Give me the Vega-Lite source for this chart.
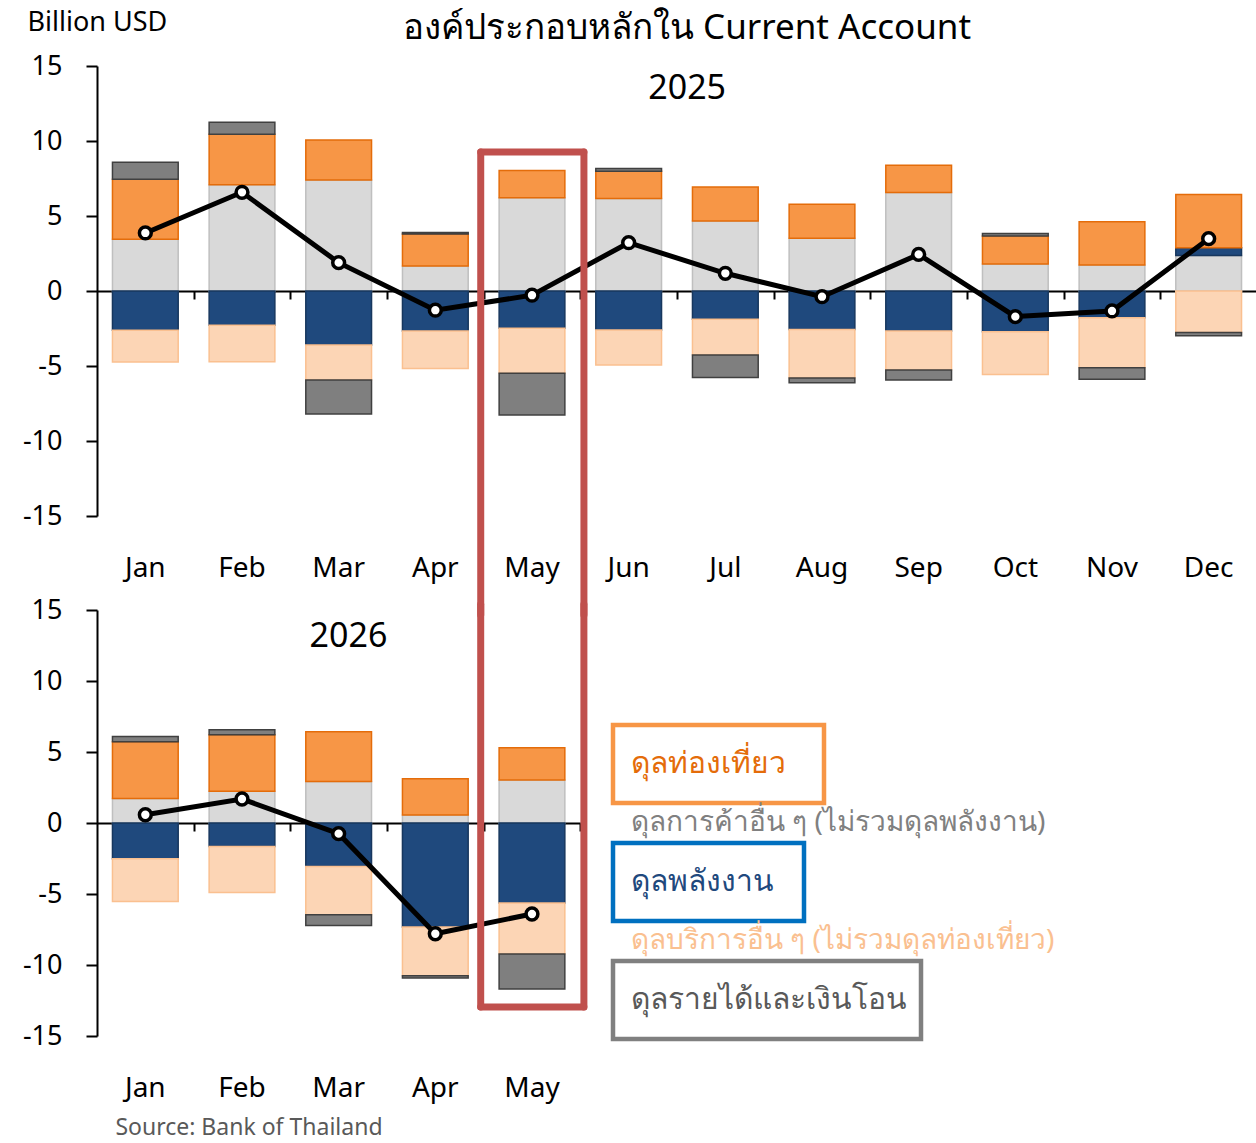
{
  "$schema": "https://vega.github.io/schema/vega-lite/v6.json",
  "background": "white",
  "padding": {"left": 22, "top": 8, "right": 0, "bottom": 0},
  "config": {
    "font": "Noto Sans",
    "view": {"stroke": null},
    "axis": {"labelFont": "Noto Sans", "titleFont": "Noto Sans"},
    "title": {"font": "Noto Sans"}
  },
  "datasets": {
    "bars": [
      {"y":"2025","m":"Jan","c":"Trade","v":3.45},{"y":"2025","m":"Jan","c":"Energy","v":-2.62},{"y":"2025","m":"Jan","c":"Tourism","v":4.0},{"y":"2025","m":"Jan","c":"Services","v":-2.11},{"y":"2025","m":"Jan","c":"Income","v":1.13},
      {"y":"2025","m":"Feb","c":"Trade","v":7.09},{"y":"2025","m":"Feb","c":"Energy","v":-2.28},{"y":"2025","m":"Feb","c":"Tourism","v":3.36},{"y":"2025","m":"Feb","c":"Services","v":-2.43},{"y":"2025","m":"Feb","c":"Income","v":0.8},
      {"y":"2025","m":"Mar","c":"Trade","v":7.4},{"y":"2025","m":"Mar","c":"Energy","v":-3.6},{"y":"2025","m":"Mar","c":"Tourism","v":2.66},{"y":"2025","m":"Mar","c":"Services","v":-2.33},{"y":"2025","m":"Mar","c":"Income","v":-2.27},
      {"y":"2025","m":"Apr","c":"Trade","v":1.66},{"y":"2025","m":"Apr","c":"Energy","v":-2.67},{"y":"2025","m":"Apr","c":"Tourism","v":2.14},{"y":"2025","m":"Apr","c":"Services","v":-2.49},{"y":"2025","m":"Apr","c":"Income","v":0.1},
      {"y":"2025","m":"May","c":"Trade","v":6.22},{"y":"2025","m":"May","c":"Energy","v":-2.49},{"y":"2025","m":"May","c":"Tourism","v":1.82},{"y":"2025","m":"May","c":"Services","v":-3.0},{"y":"2025","m":"May","c":"Income","v":-2.78},
      {"y":"2025","m":"Jun","c":"Trade","v":6.16},{"y":"2025","m":"Jun","c":"Energy","v":-2.6},{"y":"2025","m":"Jun","c":"Tourism","v":1.82},{"y":"2025","m":"Jun","c":"Services","v":-2.33},{"y":"2025","m":"Jun","c":"Income","v":0.18},
      {"y":"2025","m":"Jul","c":"Trade","v":4.67},{"y":"2025","m":"Jul","c":"Energy","v":-1.89},{"y":"2025","m":"Jul","c":"Tourism","v":2.26},{"y":"2025","m":"Jul","c":"Services","v":-2.38},{"y":"2025","m":"Jul","c":"Income","v":-1.49},
      {"y":"2025","m":"Aug","c":"Trade","v":3.51},{"y":"2025","m":"Aug","c":"Energy","v":-2.56},{"y":"2025","m":"Aug","c":"Tourism","v":2.27},{"y":"2025","m":"Aug","c":"Services","v":-3.24},{"y":"2025","m":"Aug","c":"Income","v":-0.31},
      {"y":"2025","m":"Sep","c":"Trade","v":6.56},{"y":"2025","m":"Sep","c":"Energy","v":-2.67},{"y":"2025","m":"Sep","c":"Tourism","v":1.82},{"y":"2025","m":"Sep","c":"Services","v":-2.6},{"y":"2025","m":"Sep","c":"Income","v":-0.66},
      {"y":"2025","m":"Oct","c":"Trade","v":1.8},{"y":"2025","m":"Oct","c":"Energy","v":-2.71},{"y":"2025","m":"Oct","c":"Tourism","v":1.87},{"y":"2025","m":"Oct","c":"Services","v":-2.85},{"y":"2025","m":"Oct","c":"Income","v":0.17},
      {"y":"2025","m":"Nov","c":"Trade","v":1.73},{"y":"2025","m":"Nov","c":"Energy","v":-1.78},{"y":"2025","m":"Nov","c":"Tourism","v":2.89},{"y":"2025","m":"Nov","c":"Services","v":-3.33},{"y":"2025","m":"Nov","c":"Income","v":-0.78},
      {"y":"2025","m":"Dec","c":"Trade","v":2.36},{"y":"2025","m":"Dec","c":"Energy","v":0.53},{"y":"2025","m":"Dec","c":"Tourism","v":3.55},{"y":"2025","m":"Dec","c":"Services","v":-2.76},{"y":"2025","m":"Dec","c":"Income","v":-0.22},
      {"y":"2026","m":"Jan","c":"Trade","v":1.73},{"y":"2026","m":"Jan","c":"Energy","v":-2.51},{"y":"2026","m":"Jan","c":"Tourism","v":4.0},{"y":"2026","m":"Jan","c":"Services","v":-3.01},{"y":"2026","m":"Jan","c":"Income","v":0.37},
      {"y":"2026","m":"Feb","c":"Trade","v":2.23},{"y":"2026","m":"Feb","c":"Energy","v":-1.65},{"y":"2026","m":"Feb","c":"Tourism","v":3.99},{"y":"2026","m":"Feb","c":"Services","v":-3.24},{"y":"2026","m":"Feb","c":"Income","v":0.35},
      {"y":"2026","m":"Mar","c":"Trade","v":2.93},{"y":"2026","m":"Mar","c":"Energy","v":-3.06},{"y":"2026","m":"Mar","c":"Tourism","v":3.5},{"y":"2026","m":"Mar","c":"Services","v":-3.4},{"y":"2026","m":"Mar","c":"Income","v":-0.75},
      {"y":"2026","m":"Apr","c":"Trade","v":0.56},{"y":"2026","m":"Apr","c":"Energy","v":-7.32},{"y":"2026","m":"Apr","c":"Tourism","v":2.56},{"y":"2026","m":"Apr","c":"Services","v":-3.43},{"y":"2026","m":"Apr","c":"Income","v":-0.17},
      {"y":"2026","m":"May","c":"Trade","v":3.03},{"y":"2026","m":"May","c":"Energy","v":-5.63},{"y":"2026","m":"May","c":"Tourism","v":2.27},{"y":"2026","m":"May","c":"Services","v":-3.6},{"y":"2026","m":"May","c":"Income","v":-2.46}
    ],
    "ca": [
      {"y":"2025","m":"Jan","ca":3.87},{"y":"2025","m":"Feb","ca":6.58},{"y":"2025","m":"Mar","ca":1.89},{"y":"2025","m":"Apr","ca":-1.28},
      {"y":"2025","m":"May","ca":-0.28},{"y":"2025","m":"Jun","ca":3.22},{"y":"2025","m":"Jul","ca":1.18},{"y":"2025","m":"Aug","ca":-0.38},
      {"y":"2025","m":"Sep","ca":2.44},{"y":"2025","m":"Oct","ca":-1.71},{"y":"2025","m":"Nov","ca":-1.33},{"y":"2025","m":"Dec","ca":3.49},
      {"y":"2026","m":"Jan","ca":0.58},{"y":"2026","m":"Feb","ca":1.69},{"y":"2026","m":"Mar","ca":-0.75},{"y":"2026","m":"Apr","ca":-7.8},{"y":"2026","m":"May","ca":-6.41}
    ],
    "legend": [
      {"item": "ดุลท่องเที่ยว", "boxed": true},
      {"item": "ดุลการค้าอื่น ๆ (ไม่รวมดุลพลังงาน)", "boxed": false},
      {"item": "ดุลพลังงาน", "boxed": true},
      {"item": "ดุลบริการอื่น ๆ (ไม่รวมดุลท่องเที่ยว)", "boxed": false},
      {"item": "ดุลรายได้และเงินโอน", "boxed": true}
    ]
  },
  "title": {"text": "Source: Bank of Thailand", "orient": "bottom", "anchor": "start", "frame": "bounds", "fontSize": 23, "fontWeight": "normal", "color": "#595959", "dx": 93, "offset": 15},
  "spacing": 94,
  "bounds": "flush",
  "vconcat": [
    {
      "width": 1160,
      "height": 450,
      "title": {"text": "องค์ประกอบหลักใน Current Account", "fontSize": 35, "fontWeight": "normal", "color": "black", "anchor": "middle", "frame": "group", "dx": 10, "offset": -38},
      "layer": [
        {
          "data": {"name": "bars"},
          "transform": [
            {"filter": "datum.y == '2025'"},
            {"calculate": "indexof(['Trade','Energy','Tourism','Services','Income'], datum.c)", "as": "ord"}
          ],
          "mark": {"type": "bar", "strokeWidth": 1.5},
          "encoding": {
            "x": {"field": "m", "type": "nominal",
                  "scale": {"domain": ["Jan","Feb","Mar","Apr","May","Jun","Jul","Aug","Sep","Oct","Nov","Dec"], "paddingInner": 0.32, "paddingOuter": 0.16},
                  "axis": {"orient": "bottom", "offset": -225, "labels": false, "title": null, "domainColor": "black", "domainWidth": 2, "tickColor": "black", "tickWidth": 2, "tickSize": 8, "bandPosition": 1, "tickOffset": 15.5}},
            "y": {"field": "v", "type": "quantitative", "stack": "zero",
                  "scale": {"domain": [-15, 15], "nice": false},
                  "axis": {"values": [-15,-10,-5,0,5,10,15], "labelExpr": "datum.value < 0 ? '-' + abs(datum.value) : '' + datum.value", "grid": false, "domainColor": "black", "domainWidth": 2, "tickColor": "black", "tickWidth": 2, "tickSize": 11, "labelFontSize": 27, "labelColor": "black", "labelPadding": 24,
                           "title": "Billion USD", "titleAngle": 0, "titleAlign": "left", "titleBaseline": "middle", "titleX": -70, "titleY": -44, "titleFontSize": 27, "titleFontWeight": "normal", "titleColor": "black"}},
            "fill": {"field": "c", "type": "nominal", "legend": null,
                     "scale": {"domain": ["Trade","Energy","Tourism","Services","Income"], "range": ["#D9D9D9","#1F497D","#F79646","#FCD5B5","#7F7F7F"]}},
            "stroke": {"field": "c", "type": "nominal", "legend": null,
                       "scale": {"domain": ["Trade","Energy","Tourism","Services","Income"], "range": ["#BFBFBF","#17375E","#E46C0A","#FAC090","#404040"]}},
            "order": {"field": "ord", "type": "quantitative", "sort": "ascending"}
          }
        },
        {
          "data": {"name": "ca"},
          "transform": [{"filter": "datum.y == '2025'"}],
          "mark": {"type": "line", "color": "black", "strokeWidth": 5},
          "encoding": {
            "x": {"field": "m", "type": "nominal",
                  "axis": {"orient": "bottom", "domain": false, "ticks": false, "tickSize": 0, "labelFontSize": 28, "labelColor": "black", "labelPadding": 38, "labelAngle": 0, "title": null}},
            "y": {"field": "ca", "type": "quantitative"}
          }
        },
        {
          "data": {"name": "ca"},
          "transform": [{"filter": "datum.y == '2025'"}],
          "mark": {"type": "point", "shape": "circle", "filled": true, "fill": "white", "stroke": "black", "strokeWidth": 3.5, "size": 140, "opacity": 1},
          "encoding": {
            "x": {"field": "m", "type": "nominal", "axis": null},
            "y": {"field": "ca", "type": "quantitative"}
          }
        },
        {
          "data": {"values": [{}]},
          "mark": {"type": "text", "fontSize": 34, "color": "black", "align": "center", "baseline": "middle"},
          "encoding": {
            "x": {"datum": "Jun", "type": "nominal", "bandPosition": 1.39, "axis": null},
            "y": {"datum": 13.5, "type": "quantitative"},
            "text": {"value": "2025"}
          }
        },
        {
          "data": {"values": [{}]},
          "mark": {"type": "rule", "color": "#C0504D", "strokeWidth": 7, "strokeCap": "round"},
          "encoding": {
            "x": {"datum": "May", "type": "nominal", "bandPosition": -0.28, "axis": null},
            "y": {"datum": 9.27, "type": "quantitative"},
            "y2": {"datum": -21.6}
          }
        },
        {
          "data": {"values": [{}]},
          "mark": {"type": "rule", "color": "#C0504D", "strokeWidth": 7, "strokeCap": "round"},
          "encoding": {
            "x": {"datum": "May", "type": "nominal", "bandPosition": 1.29, "axis": null},
            "y": {"datum": 9.27, "type": "quantitative"},
            "y2": {"datum": -21.6}
          }
        },
        {
          "data": {"values": [{}]},
          "mark": {"type": "rule", "color": "#C0504D", "strokeWidth": 7, "strokeCap": "round"},
          "encoding": {
            "x": {"datum": "May", "type": "nominal", "bandPosition": -0.28, "axis": null},
            "x2": {"datum": "May", "bandPosition": 1.29},
            "y": {"datum": 9.27, "type": "quantitative"}
          }
        }
      ],
      "resolve": {"axis": {"x": "independent"}}
    },
    {
      "spacing": 30,
      "bounds": "flush",
      "hconcat": [
        {
          "width": 483.3,
          "height": 426,
          "layer": [
            {
              "data": {"name": "bars"},
              "transform": [
                {"filter": "datum.y == '2026'"},
                {"calculate": "indexof(['Trade','Energy','Tourism','Services','Income'], datum.c)", "as": "ord"}
              ],
              "mark": {"type": "bar", "strokeWidth": 1.5},
              "encoding": {
                "x": {"field": "m", "type": "nominal",
                      "scale": {"domain": ["Jan","Feb","Mar","Apr","May"], "paddingInner": 0.32, "paddingOuter": 0.16},
                      "axis": {"orient": "bottom", "offset": -213, "labels": false, "title": null, "domainColor": "black", "domainWidth": 2, "tickColor": "black", "tickWidth": 2, "tickSize": 8, "bandPosition": 1, "tickOffset": 15.5}},
                "y": {"field": "v", "type": "quantitative", "stack": "zero",
                      "scale": {"domain": [-15, 15], "nice": false},
                      "axis": {"values": [-15,-10,-5,0,5,10,15], "labelExpr": "datum.value < 0 ? '-' + abs(datum.value) : '' + datum.value", "grid": false, "domainColor": "black", "domainWidth": 2, "tickColor": "black", "tickWidth": 2, "tickSize": 11, "labelFontSize": 27, "labelColor": "black", "labelPadding": 24, "title": null}},
                "fill": {"field": "c", "type": "nominal", "legend": null,
                         "scale": {"domain": ["Trade","Energy","Tourism","Services","Income"], "range": ["#D9D9D9","#1F497D","#F79646","#FCD5B5","#7F7F7F"]}},
                "stroke": {"field": "c", "type": "nominal", "legend": null,
                           "scale": {"domain": ["Trade","Energy","Tourism","Services","Income"], "range": ["#BFBFBF","#17375E","#E46C0A","#FAC090","#404040"]}},
                "order": {"field": "ord", "type": "quantitative", "sort": "ascending"}
              }
            },
            {
              "data": {"name": "ca"},
              "transform": [{"filter": "datum.y == '2026'"}],
              "mark": {"type": "line", "color": "black", "strokeWidth": 5},
              "encoding": {
                "x": {"field": "m", "type": "nominal",
                      "axis": {"orient": "bottom", "domain": false, "ticks": false, "tickSize": 0, "labelFontSize": 28, "labelColor": "black", "labelPadding": 38, "labelAngle": 0, "title": null}},
                "y": {"field": "ca", "type": "quantitative"}
              }
            },
            {
              "data": {"name": "ca"},
              "transform": [{"filter": "datum.y == '2026'"}],
              "mark": {"type": "point", "shape": "circle", "filled": true, "fill": "white", "stroke": "black", "strokeWidth": 3.5, "size": 140, "opacity": 1},
              "encoding": {
                "x": {"field": "m", "type": "nominal", "axis": null},
                "y": {"field": "ca", "type": "quantitative"}
              }
            },
            {
              "data": {"values": [{}]},
              "mark": {"type": "text", "fontSize": 34, "color": "black", "align": "center", "baseline": "middle"},
              "encoding": {
                "x": {"datum": "Mar", "type": "nominal", "bandPosition": 0.65, "axis": null},
                "y": {"datum": 13.1, "type": "quantitative"},
                "text": {"value": "2026"}
              }
            },
            {
              "data": {"values": [{}]},
              "mark": {"type": "rule", "color": "#C0504D", "strokeWidth": 7, "strokeCap": "round"},
              "encoding": {
                "x": {"datum": "May", "type": "nominal", "bandPosition": -0.28, "axis": null},
                "y": {"datum": 15.4, "type": "quantitative"},
                "y2": {"datum": -12.96}
              }
            },
            {
              "data": {"values": [{}]},
              "mark": {"type": "rule", "color": "#C0504D", "strokeWidth": 7, "strokeCap": "round"},
              "encoding": {
                "x": {"datum": "May", "type": "nominal", "bandPosition": 1.29, "axis": null},
                "y": {"datum": 15.4, "type": "quantitative"},
                "y2": {"datum": -12.96}
              }
            },
            {
              "data": {"values": [{}]},
              "mark": {"type": "rule", "color": "#C0504D", "strokeWidth": 7, "strokeCap": "round"},
              "encoding": {
                "x": {"datum": "May", "type": "nominal", "bandPosition": -0.28, "axis": null},
                "x2": {"datum": "May", "bandPosition": 1.29},
                "y": {"datum": -12.96, "type": "quantitative"}
              }
            }
          ],
          "resolve": {"axis": {"x": "independent"}}
        },
        {
          "width": 450,
          "height": 426,
          "data": {"name": "legend"},
          "layer": [
            {
              "transform": [{"filter": "datum.item == 'ดุลท่องเที่ยว'"}],
              "mark": {"type": "rect", "fillOpacity": 0, "stroke": "#F79646", "strokeWidth": 4.5, "height": {"band": 1.32}},
              "encoding": {
                "x": {"datum": 2, "type": "quantitative", "scale": {"domain": [0, 450], "nice": false, "zero": false}, "axis": null},
                "x2": {"datum": 213},
                "y": {"field": "item", "type": "nominal", "axis": null,
                      "scale": {"domain": [" ","ดุลท่องเที่ยว","ดุลการค้าอื่น ๆ (ไม่รวมดุลพลังงาน)","ดุลพลังงาน","ดุลบริการอื่น ๆ (ไม่รวมดุลท่องเที่ยว)","ดุลรายได้และเงินโอน"], "paddingInner": 0, "paddingOuter": 0.61, "align": 0.91}}
              }
            },
            {
              "transform": [{"filter": "datum.item == 'ดุลพลังงาน'"}],
              "mark": {"type": "rect", "fillOpacity": 0, "stroke": "#0070C0", "strokeWidth": 4.5, "height": {"band": 1.32}},
              "encoding": {
                "x": {"datum": 2, "type": "quantitative", "axis": null},
                "x2": {"datum": 193},
                "y": {"field": "item", "type": "nominal", "axis": null}
              }
            },
            {
              "transform": [{"filter": "datum.item == 'ดุลรายได้และเงินโอน'"}],
              "mark": {"type": "rect", "fillOpacity": 0, "stroke": "#808080", "strokeWidth": 4.5, "height": {"band": 1.32}},
              "encoding": {
                "x": {"datum": 2, "type": "quantitative", "axis": null},
                "x2": {"datum": 310},
                "y": {"field": "item", "type": "nominal", "axis": null}
              }
            },
            {
              "transform": [{"filter": "datum.boxed"}],
              "mark": {"type": "text", "align": "left", "baseline": "middle", "fontSize": 30, "fontWeight": 500},
              "encoding": {
                "x": {"datum": 20, "type": "quantitative", "axis": null},
                "y": {"field": "item", "type": "nominal", "axis": null},
                "text": {"field": "item"},
                "color": {"field": "item", "type": "nominal", "legend": null,
                          "scale": {"domain": ["ดุลท่องเที่ยว","ดุลการค้าอื่น ๆ (ไม่รวมดุลพลังงาน)","ดุลพลังงาน","ดุลบริการอื่น ๆ (ไม่รวมดุลท่องเที่ยว)","ดุลรายได้และเงินโอน"],
                                    "range": ["#E46C0A","#808080","#1F497D","#FAC090","#595959"]}}
              }
            },
            {
              "transform": [{"filter": "!datum.boxed"}],
              "mark": {"type": "text", "align": "left", "baseline": "middle", "fontSize": 28},
              "encoding": {
                "x": {"datum": 20, "type": "quantitative", "axis": null},
                "y": {"field": "item", "type": "nominal", "axis": null},
                "text": {"field": "item"},
                "color": {"field": "item", "type": "nominal", "legend": null}
              }
            }
          ]
        }
      ]
    }
  ]
}
